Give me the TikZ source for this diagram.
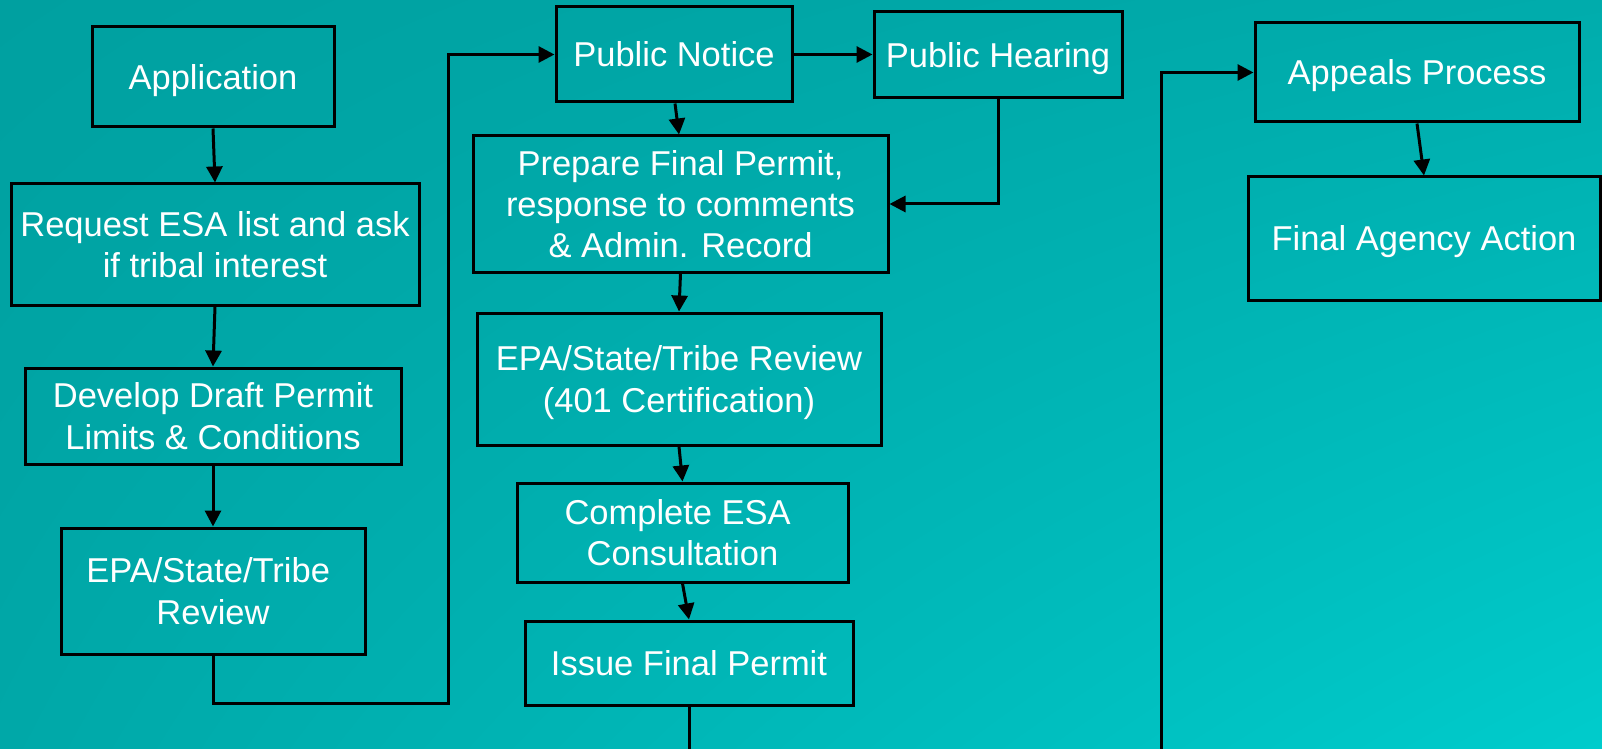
\documentclass[tikz,border=0pt]{standalone}
\usepackage{fontspec}
\setmainfont{Liberation Sans}
\usetikzlibrary{arrows.meta,shadings}
\definecolor{bgUL}{RGB}{0,160,160}
\definecolor{bgUR}{RGB}{0,172,172}
\definecolor{bgLL}{RGB}{0,168,168}
\definecolor{bgLR}{RGB}{0,204,204}
\newcommand\mkbox[6]{%
  \node[flowbox, minimum width={(#4-#2)*0.5pt}, minimum height={(#5-#3)*0.5pt}]
    (#1) at ({(#2+#4)/2},{(#3+#5)/2}) {#6};}
\begin{document}
\begin{tikzpicture}[x=0.5pt,y=-0.5pt,
  flowbox/.style={draw=black, line width=1.5pt, inner sep=0pt, align=center,
    text depth=0pt, text=white, font=\fontsize{17.25pt}{20.6pt}\selectfont},
  conn/.style={draw=black, line width=1.5pt},
  arr/.style={conn, -{Triangle[length=8pt,width=8pt]}}]
\useasboundingbox (0,0) rectangle (1602,749);
\clip (0,0) rectangle (1602,749);
\shade[upper left=bgUL, upper right=bgUR, lower left=bgLL, lower right=bgLR]
  (0,0) rectangle (1602,749);
% left column
\mkbox{app}{92}{27}{334}{127}{Application}
\mkbox{req}{11}{184}{419}{305}{Request ESA list and ask\\if tribal interest}
\mkbox{dev}{25}{368}{401}{464}{Develop Draft Permit\\Limits \& Conditions}
\mkbox{epaa}{61}{528}{365}{654}{EPA/State/Tribe\hspace*{0.28em}\\Review}
% middle column
\mkbox{pn}{556}{7}{792}{102}{Public Notice}
\mkbox{ph}{874}{12}{1122}{98}{Public Hearing}
\mkbox{prep}{473}{136}{888}{272}{Prepare Final Permit,\\response to comments\\\& Admin. Record}
\mkbox{epab}{477}{313}{881}{445}{EPA/State/Tribe Review\\(401 Certification)}
\mkbox{comp}{517}{483}{848}{582}{Complete ESA\hspace*{0.28em}\\Consultation}
\mkbox{issue}{525}{621}{853}{705}{Issue Final Permit}
% right column
\mkbox{appeal}{1255}{23}{1579}{122}{Appeals Process}
\mkbox{final}{1248}{177}{1600}{300}{Final Agency Action}
% coordinates
\coordinate (c1) at (448,703);
\coordinate (c2) at (689,760);
\coordinate (c3) at (1161,760);
% connectors
\draw[arr] (app.south) -- (req.north);
\draw[arr] (req.south) -- (dev.north);
\draw[arr] (dev.south) -- (epaa.north);
\draw[arr] (epaa.south) |- (c1) |- (pn.west);
\draw[arr] (pn.east) -- (pn.east -| ph.west);
\draw[arr] ([xshift=0.5pt]pn.south) -- ([xshift=-0.75pt]prep.north);
\draw[arr] (ph.south) |- (prep.east);
\draw[arr] (prep.south) -- (epab.north);
\draw[arr] (epab.south) -- (comp.north);
\draw[arr] (comp.south) -- (issue.north);
\draw[conn] (issue.south) -- (c2);
\draw[arr] (c3) |- (appeal.west);
\draw[arr] (appeal.south) -- (final.north);
\end{tikzpicture}
\end{document}
